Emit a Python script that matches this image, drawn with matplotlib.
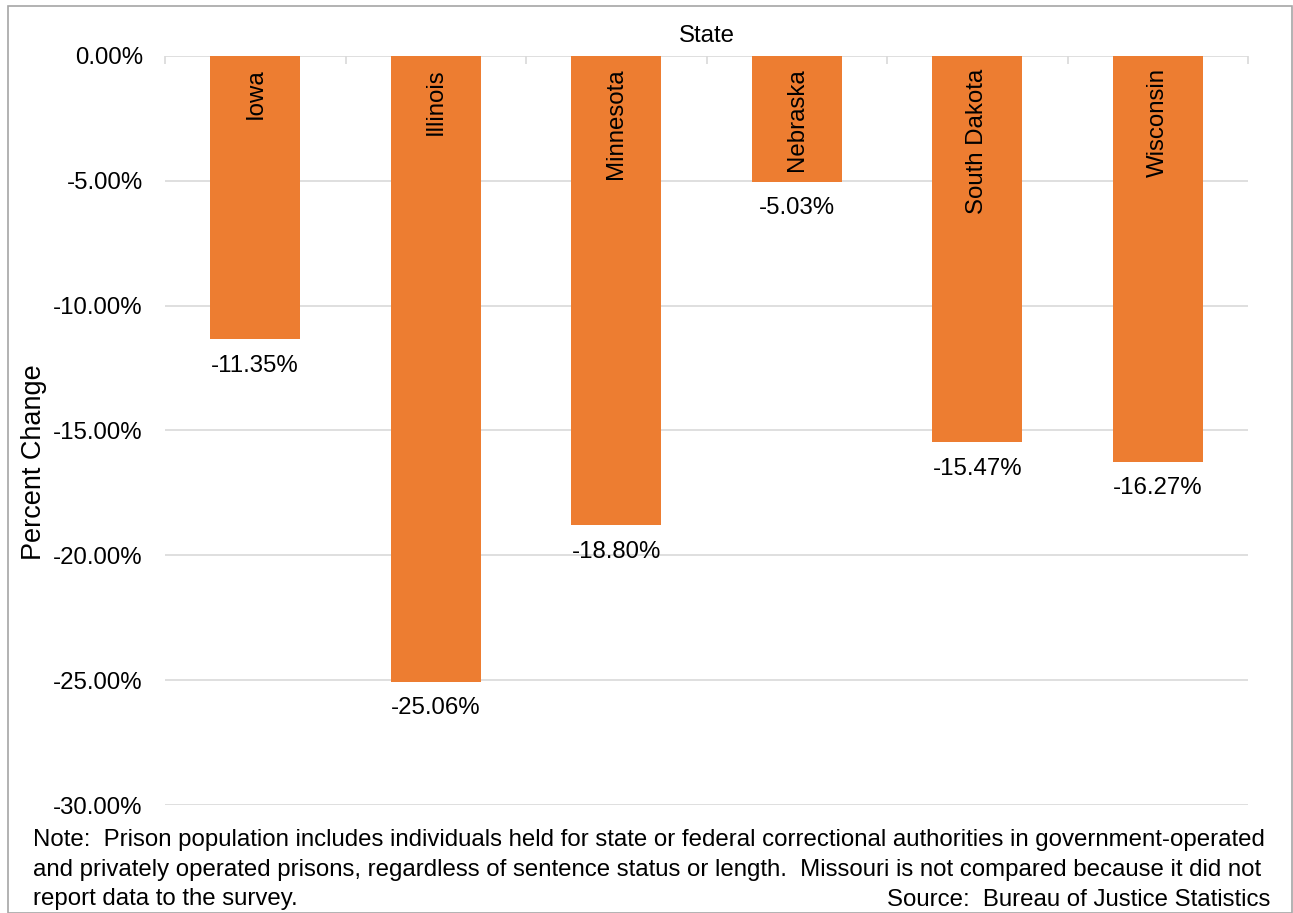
import matplotlib
matplotlib.use("Agg")
import matplotlib.pyplot as plt
from matplotlib.patches import Rectangle
from matplotlib.ticker import FuncFormatter

plt.rcParams['font.family'] = ['Liberation Sans', 'DejaVu Sans']

states = ["Iowa", "Illinois", "Minnesota", "Nebraska", "South Dakota", "Wisconsin"]
changes = [-11.35, -25.06, -18.80, -5.03, -15.47, -16.27]
yticks = [0, -5, -10, -15, -20, -25, -30]

FS = 17.3
fig = plt.figure(figsize=(12.93, 9.13), dpi=100)
ax = fig.add_axes([165/1293, 1-805/913, (1248-165)/1293, (805-56)/913])

x = list(range(len(states)))
ax.bar(x, changes, width=0.5, color="#ED7D31", zorder=3)
ax.set_xlim(-0.5, len(states)-0.5)
ax.set_ylim(-30, 0)
ax.set_yticks(yticks)
ax.yaxis.set_major_formatter(FuncFormatter(lambda v, p: f"{v:.2f}%"))
ax.tick_params(axis='y', length=0, labelsize=FS, pad=16)
ax.xaxis.tick_top()
ax.set_xticks([i - 0.5 for i in range(len(states) + 1)])
ax.set_xticklabels([])
ax.tick_params(axis='x', direction='in', length=6, width=1.2, color="#D9D9D9")
for s in ax.spines.values():
    s.set_visible(False)
ax.grid(axis='y', color="#D9D9D9", linewidth=1.2, zorder=0)
ax.set_ylabel("Percent Change", fontsize=19.5)
ax.yaxis.set_label_coords(47/1293, 1-462/913, transform=fig.transFigure)
ax.set_title("State", fontsize=FS, pad=10)

for xi, name, v in zip(x, states, changes):
    ax.text(xi, -0.5, name, rotation=90, ha='center', va='top', fontsize=FS, zorder=4)
    ax.annotate(f"{v:.2f}%", xy=(xi, v), xytext=(0, -11), textcoords='offset points',
                ha='center', va='top', fontsize=FS)

note_lines = ["Note:  Prison population includes individuals held for state or federal correctional authorities in government-operated",
              "and privately operated prisons, regardless of sentence status or length.  Missouri is not compared because it did not",
              "report data to the survey."]
for i, line in enumerate(note_lines):
    fig.text(33/1293, 1-(840 + 29.5*i)/913, line, fontsize=FS, va='center', ha='left')
fig.text(1270/1293, 1-900/913, "Source:  Bureau of Justice Statistics", fontsize=FS, ha='right', va='center')

fig.patches.append(Rectangle((8/1293, 0.0), (1293-8)/1293 - 0.001, 1-6/913, transform=fig.transFigure,
                             fill=False, edgecolor="#A6A6A6", linewidth=1.2))

fig.savefig("out.png", dpi=100)
